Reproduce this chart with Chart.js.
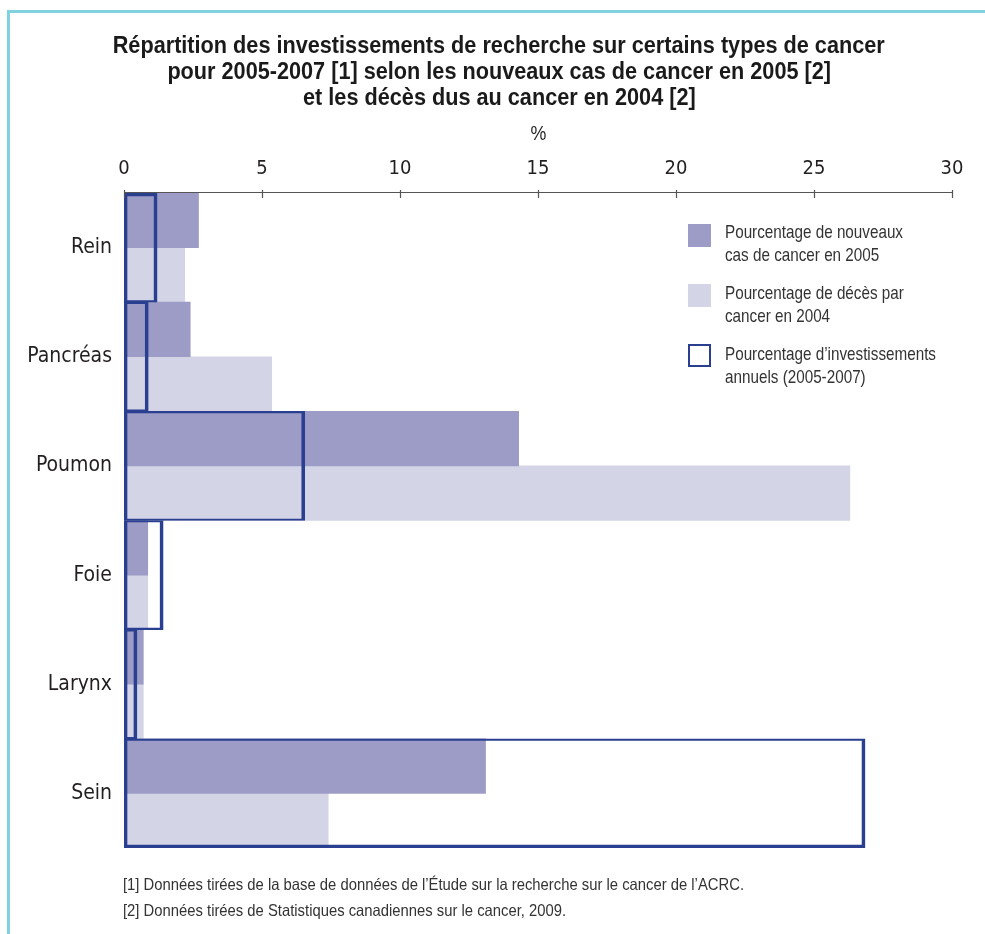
<!DOCTYPE html>
<html>
<head>
<meta charset="utf-8">
<script src="https://cdn.jsdelivr.net/npm/chart.js@4.4.1/dist/chart.umd.min.js"></script>
<style>
html,body{margin:0;padding:0;background:#fff;}
body{width:985px;height:934px;position:relative;overflow:hidden;font-family:"Liberation Sans",Arial,sans-serif;color:#231f20;}
#frameTop{position:absolute;left:7px;top:10px;width:978px;height:3px;background:#7fd2de;}
#frameLeft{position:absolute;left:7px;top:10px;width:3px;height:924px;background:#7fd2de;}
#chart{position:absolute;left:0;top:0;}
.tl{position:absolute;left:0;width:998px;text-align:center;font-weight:bold;font-size:23px;line-height:26px;color:#1a1a1a;white-space:nowrap;}
.tl span{display:inline-block;transform-origin:50% 50%;}
#pct{position:absolute;left:498px;width:80px;text-align:center;top:121px;font-size:21px;line-height:24px;}
#pct span{display:inline-block;transform:scaleX(0.85);}
.lg{position:absolute;left:725px;font-size:18.5px;line-height:23px;color:#333;white-space:nowrap;}
.lg span, .fn span{display:inline-block;transform-origin:0 50%;}
.sw{position:absolute;left:688px;width:23px;height:23px;box-sizing:border-box;}
.fn{position:absolute;left:123px;font-size:16.5px;line-height:20px;color:#333;white-space:nowrap;}
</style>
</head>
<body>
<div id="frameTop"></div>
<div id="frameLeft"></div>
<canvas id="chart" width="985" height="934"></canvas>
<div class="tl" style="top:32px;"><span id="t1">Répartition des investissements de recherche sur certains types de cancer</span></div>
<div class="tl" style="top:58px;"><span>pour 2005-2007 [1] selon les nouveaux cas de cancer en 2005 [2]</span></div>
<div class="tl" style="top:84px;"><span>et les décès dus au cancer en 2004 [2]</span></div>
<div id="pct"><span>%</span></div>
<div class="sw" style="top:224px;background:#9d9cc6;"></div>
<div class="lg" style="top:220px;"><span id="l1">Pourcentage de nouveaux</span><br><span>cas de cancer en 2005</span></div>
<div class="sw" style="top:284px;background:#d3d5e7;"></div>
<div class="lg" style="top:281px;"><span>Pourcentage de décès par</span><br><span>cancer en 2004</span></div>
<div class="sw" style="top:344px;border:2.5px solid #2a3f8f;"></div>
<div class="lg" style="top:342px;"><span>Pourcentage d’investissements</span><br><span>annuels (2005-2007)</span></div>
<div class="fn" style="top:874px;"><span id="f1">[1] Données tirées de la base de données de l’Étude sur la recherche sur le cancer de l’ACRC.</span></div>
<div class="fn" style="top:900px;"><span>[2] Données tirées de Statistiques canadiennes sur le cancer, 2009.</span></div>
<script>
const categories = ['Rein', 'Pancréas', 'Poumon', 'Foie', 'Larynx', 'Sein'];
const newCases2005 = [2.7, 2.4, 14.3, 0.86, 0.7, 13.1];
const deaths2004 = [2.2, 5.35, 26.3, 0.86, 0.7, 7.4];
const investments = [1.2, 0.88, 6.55, 1.42, 0.47, 26.85];
const xTicks = [0, 5, 10, 15, 20, 25, 30];

// condense HTML text horizontally (reference uses a condensed typeface)
function condense(refId, target, selector) {
  const w = document.getElementById(refId).getBoundingClientRect().width;
  const k = target / w;
  document.querySelectorAll(selector).forEach(el => { el.style.transform = 'scaleX(' + k + ')'; });
}
condense('t1', 772, '.tl span');
condense('l1', 178, '.lg span');
condense('f1', 621, '.fn span');

const FONT = '"DejaVu Sans Condensed","Liberation Sans Narrow",sans-serif';
const NAVY = '#2a3f8f';

const tickPlugin = {
  id: 'tickMarks',
  afterDatasetsDraw(chart) {
    const xs = chart.scales.x;
    const ctx = chart.ctx;
    const y0 = xs.bottom;
    ctx.save();
    ctx.strokeStyle = '#555';
    ctx.lineWidth = 1.2;
    xTicks.forEach(v => {
      const px = Math.round(xs.getPixelForValue(v)) + 0.5;
      ctx.beginPath();
      ctx.moveTo(px, y0 - 3);
      ctx.lineTo(px, y0 + 5);
      ctx.stroke();
    });
    ctx.beginPath();
    ctx.moveTo(xs.left, y0 - 0.5);
    ctx.lineTo(xs.right, y0 - 0.5);
    ctx.stroke();
    ctx.restore();
  }
};

const last = categories.length - 1;
new Chart(document.getElementById('chart'), {
  type: 'bar',
  data: {
    labels: categories,
    datasets: [
      {
        label: 'Pourcentage d’investissements annuels (2005-2007)',
        data: investments,
        backgroundColor: 'rgba(0,0,0,0)',
        borderColor: NAVY,
        borderWidth: (c) => ({
          left: 3, right: 3,
          top: c.dataIndex === 0 ? 3 : 1.5,
          bottom: c.dataIndex === last ? 3 : 1.5
        }),
        borderSkipped: false,
        grouped: false,
        order: 0,
        barPercentage: 1,
        categoryPercentage: 1
      },
      {
        label: 'Pourcentage de nouveaux cas de cancer en 2005',
        data: newCases2005,
        backgroundColor: '#9d9cc6',
        borderWidth: 0,
        order: 1,
        barPercentage: 1,
        categoryPercentage: 1
      },
      {
        label: 'Pourcentage de décès par cancer en 2004',
        data: deaths2004,
        backgroundColor: '#d3d5e7',
        borderWidth: 0,
        order: 1,
        barPercentage: 1,
        categoryPercentage: 1
      }
    ]
  },
  options: {
    indexAxis: 'y',
    responsive: false,
    animation: false,
    devicePixelRatio: 1,
    layout: { padding: { top: 120, right: 33, bottom: 86, left: 0 } },
    plugins: { legend: { display: false }, tooltip: { enabled: false } },
    scales: {
      x: {
        position: 'top',
        min: 0, max: 30,
        afterBuildTicks: (s) => { s.ticks = xTicks.map(v => ({ value: v })); },
        ticks: { padding: 12, color: '#231f20', font: { family: FONT, size: 20 } },
        grid: { display: false, drawTicks: false },
        border: { display: false },
        afterFit: (s) => { s.height = 73; }
      },
      y: {
        ticks: { padding: 12, color: '#231f20', font: { family: FONT, size: 21 } },
        grid: { display: false, drawTicks: false },
        border: { display: false },
        afterFit: (s) => { s.width = 124; }
      }
    }
  },
  plugins: [tickPlugin]
});
</script>
</body>
</html>
